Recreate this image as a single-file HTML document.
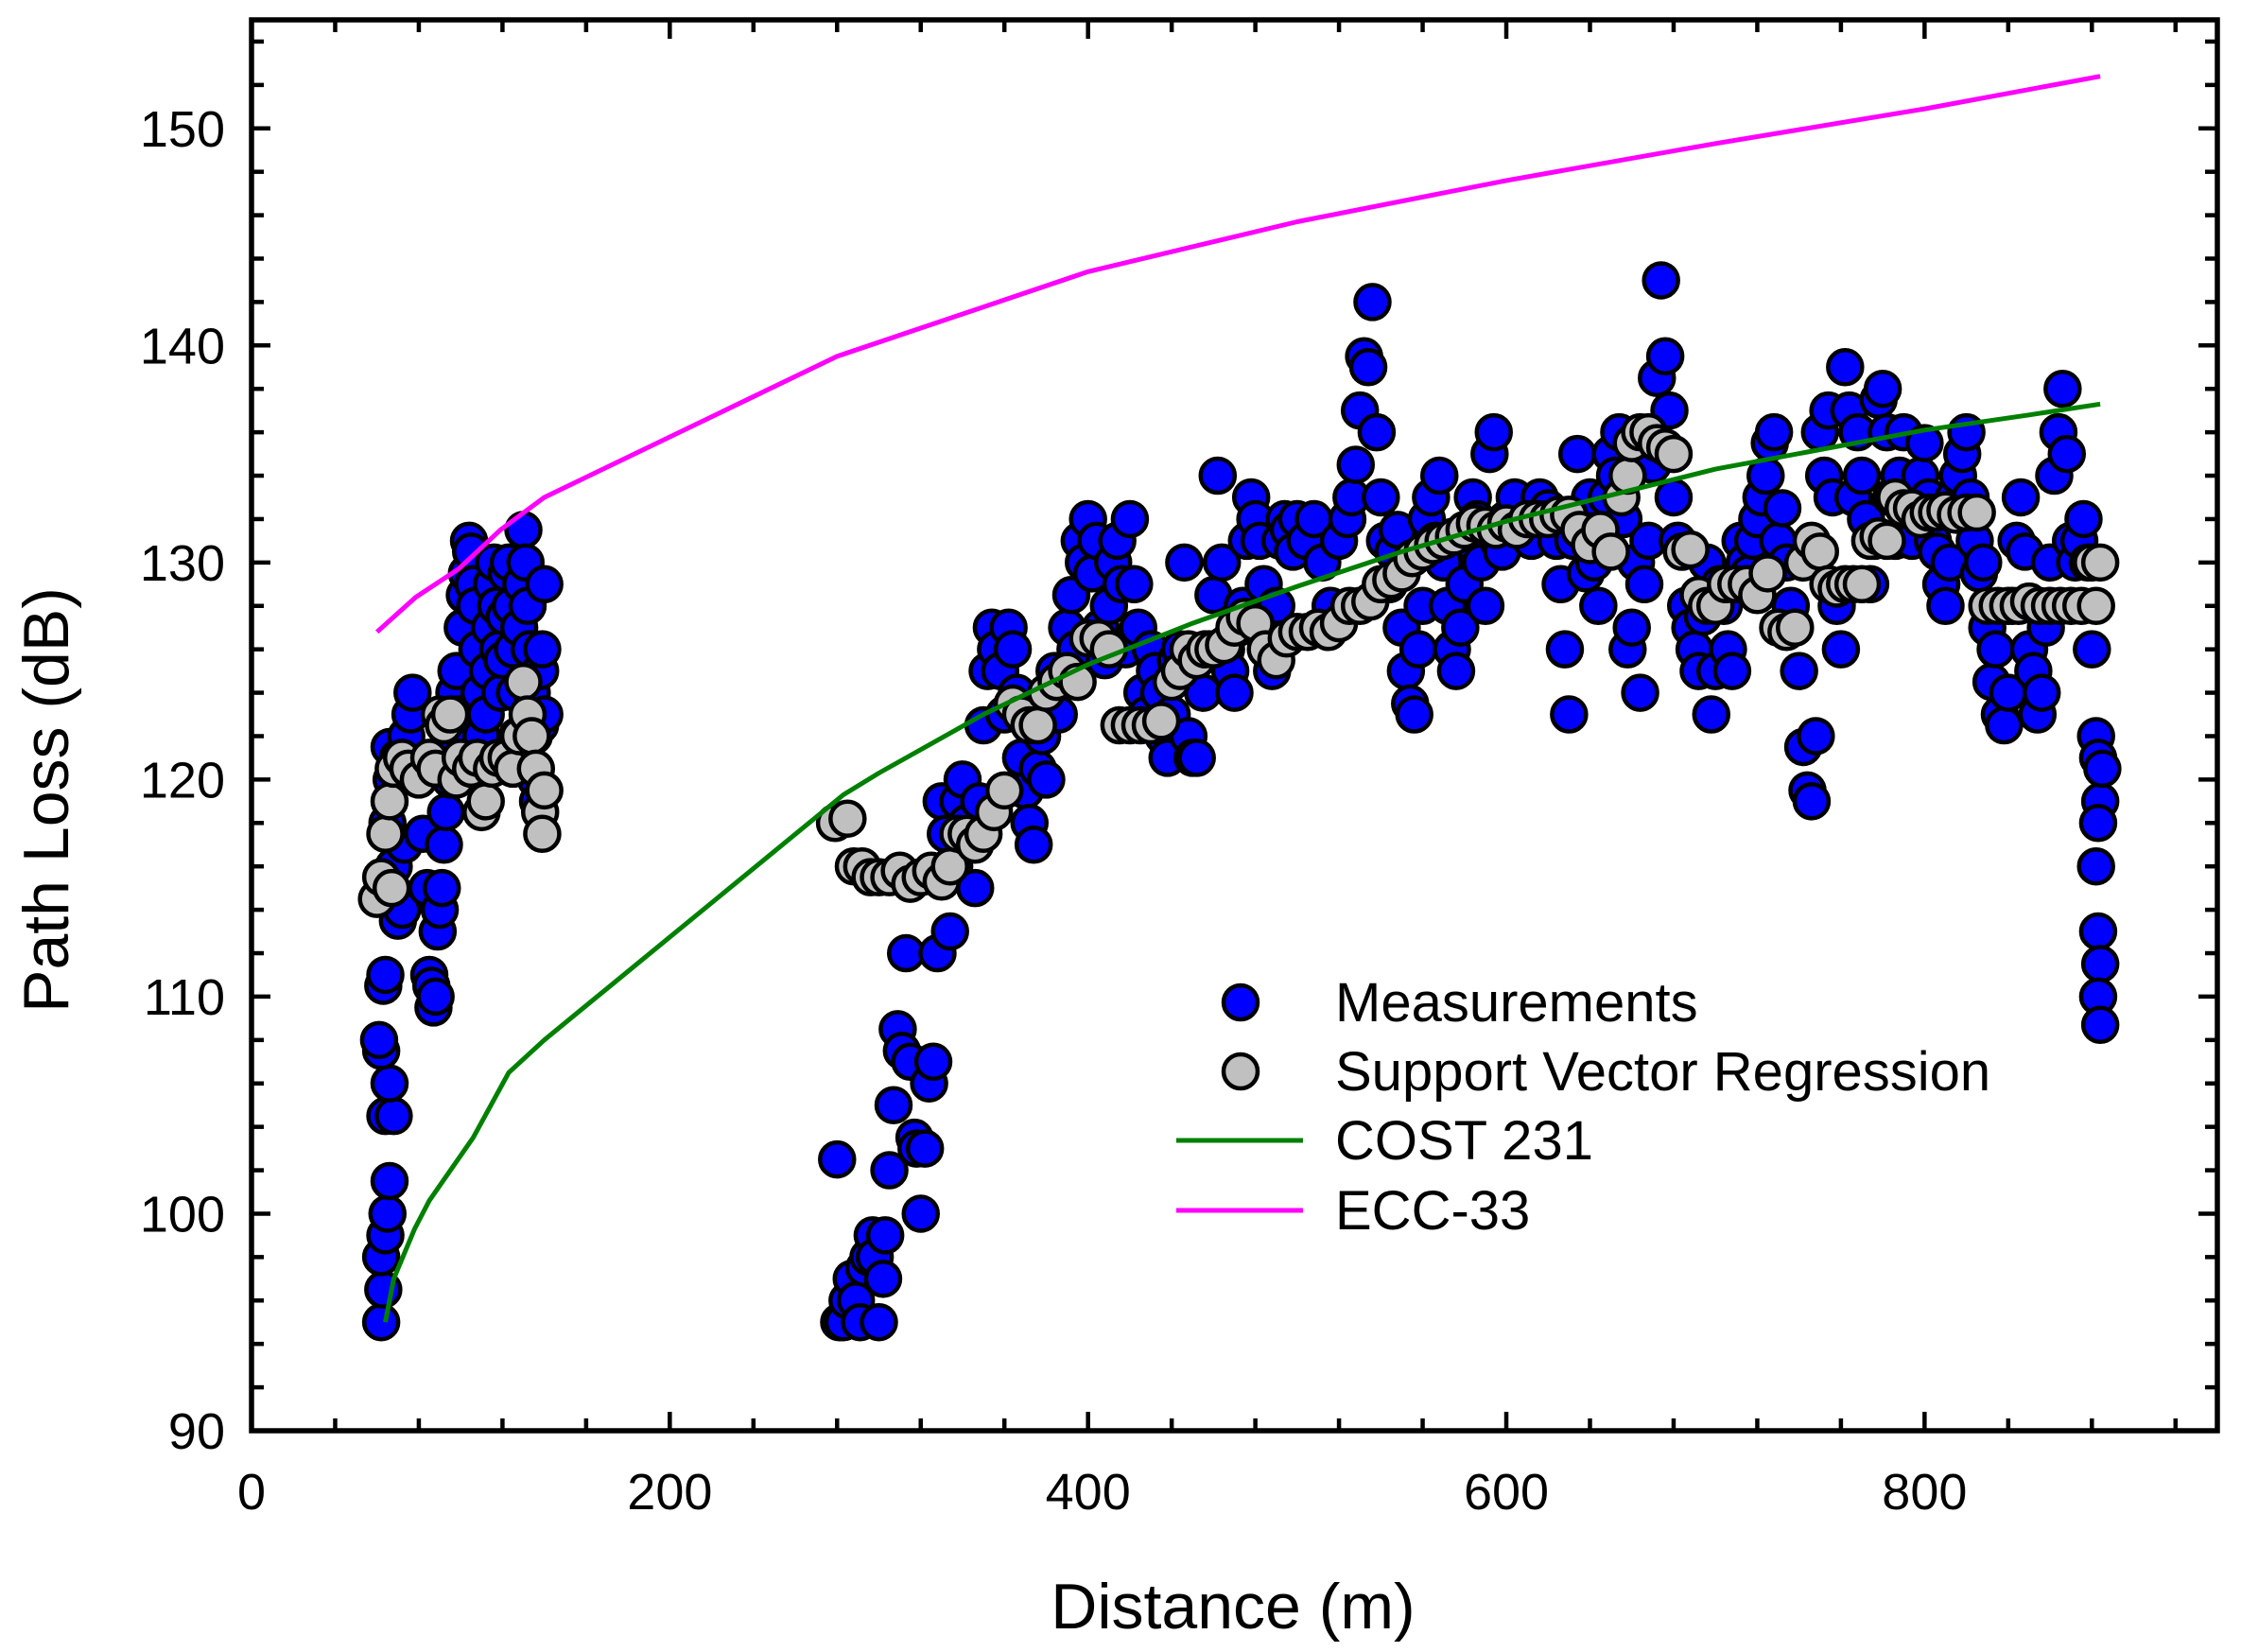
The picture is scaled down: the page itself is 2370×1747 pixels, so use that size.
<!DOCTYPE html>
<html><head><meta charset="utf-8">
<style>
html,body{margin:0;padding:0;background:#fff;}
svg{display:block;font-family:"Liberation Sans",Arial,sans-serif;}
</style></head>
<body>
<svg id="chart" width="2370" height="1747" viewBox="0 0 2370 1747" xmlns="http://www.w3.org/2000/svg">
<rect width="2370" height="1747" fill="#fff"/>
<g id="marks"></g>
<g id="axes"></g>
<g id="legend">
  <circle cx="1312" cy="1060" r="18" fill="#0000ff" stroke="#000" stroke-width="4.5"/>
  <text x="1412" y="1080" font-size="58">Measurements</text>
  <circle cx="1312" cy="1133" r="18" fill="#c0c0c0" stroke="#000" stroke-width="4.5"/>
  <text x="1412" y="1153" font-size="58">Support Vector Regression</text>
  <line x1="1244" y1="1206" x2="1378" y2="1206" stroke="#008000" stroke-width="5"/>
  <text x="1412" y="1226" font-size="58">COST 231</text>
  <line x1="1244" y1="1280" x2="1378" y2="1280" stroke="#ff00ff" stroke-width="5"/>
  <text x="1412" y="1300" font-size="58">ECC-33</text>
</g>
<text x="1304" y="1722" font-size="68" text-anchor="middle">Distance (m)</text>
<text x="0" y="0" font-size="68" text-anchor="middle" transform="translate(72,846) rotate(-90)">Path Loss (dB)</text>
</svg>
<script>
const measDist = [62,63,62,64,65,66,64,68,66,62,61,63,64,70,72,68,73,65,67,66,70,74,76,77,79,82,84,85,86,87,88,89,90,91,92,93,95,96,97,98,99,100,101,102,103,104,105,106,107,108,109,110,111,112,113,114,115,116,117,118,119,120,121,122,123,124,125,126,127,128,129,130,131,132,133,134,135,136,137,138,139,140,138,140,
280,281,283,285,287,289,291,293,295,297,298,300,302,303,305,307,309,311,313,315,317,318,320,322,324,326,328,330,332,334,336,338,340,342,344,346,348,350,352,354,356,358,360,362,364,366,368,370,372,374,376,378,380,382,384,386,390,392,394,396,398,400,402,404,406,408,410,412,414,416,418,420,422,424,426,428,430,432,434,436,438,440,442,444,446,448,450,452,455,458,460,462,464,466,468,470,472,474,476,478,480,482,484,486,488,490,492,494,496,498,500,504,508,512,516,520,524,526,528,530,532,534,536,538,540,542,544,546,548,550,552,554,556,558,560,562,564,566,568,570,572,574,576,578,580,582,584,586,588,590,592,594,596,598,600,604,608,612,616,620,624,626,628,630,632,634,636,638,640,642,644,646,648,650,652,654,656,658,660,662,664,666,668,670,672,674,676,678,680,682,684,686,688,690,692,694,696,698,700,702,704,706,708,710,712,714,716,718,720,722,724,726,728,730,732,734,736,738,740,742,744,746,748,750,752,754,756,758,760,762,764,766,768,770,772,774,776,778,780,782,784,786,788,790,792,794,796,798,800,802,804,806,808,810,812,814,816,818,820,822,824,826,828,830,832,834,836,838,840,842,844,846,848,850,852,854,856,858,860,862,864,866,868,870,872,874,876,878,880,882,883,884,883,882,883,884,883,884,885];
const measLoss = [95,96.5,98,99,100,101.5,104.5,104.5,106,107.5,108,110.5,111,113.5,114,116,117,118,120,121.5,121,122,123,124,120.5,117.5,115,111,110.5,109.5,110,113,114,115,117,118.5,120,122,124,125,123,121,127,128.5,129.5,131,130.5,129,128,126,124,122,120.5,123,125,127,129,130,128,126,124,125.5,127.5,129.5,130,128,126,124,122,127,129,131.5,130,128,126,124,122,120,119,125,126,129,122.5,123,
102.5,95,95,96,97,96,95,97.5,98,99,98,95,97,99,102,105,108.5,107.5,112,107,103.5,103,100,103,106,107,112,119,117.5,113,116,119,120,118,117,115,119,122.5,125,127,126,125,123,127,126,124,121,119.5,118,117,120.5,122,120,124,125,123,127,128.5,126,131,130,132,129.5,131,127,125.5,128,130,131,129,126,132,129,127,124,123,126,125,124,122,121,123,125.5,126,130,122,121,121,124,126,128.5,134,130,126,125,124,127,128,131,133,132,131,129,127,125,128,131,132,131.5,130.5,132,131,132,130,128,131,132,133,134.5,137,139.5,139,142,136,133,131,129,130.5,131.5,127,125,123.5,123,126,128,132,133,131,134,130,128,126,125,127,129,131,133,132,130,128,135,136,131,130.5,132,133,131.5,131,133,132.5,131,129,126,123,131,135,132,129.5,133,130,128,131,133,135,134,136,132,126,127,130,124,129,131,134.5,138.5,143,139.5,137,133,131,130.5,128,127,126,125,127.5,130,123,125,129,128,126,125,129,131,130,129.5,131,132,133,134,135.5,136,131,132.5,130,128,127,125,121.5,119.5,119,122,136,134,137,133,128,126,139,137,133,136,134,132,129,131,137.5,138,136,133,131,134,136,133,131,133,134,135.5,133,131,130.5,129,128,130,133,134,135,136,133,131,129.5,130,127,124.5,126,123,122.5,124,128,131,133,130.5,126,125,123,124,127,130,134,136,138,135,131,130,131,132,130,126,122,121,119,118,116,113,111.5,110,108.7,120.5];
const svrDist = [60,62,64,66,67,68,72,75,80,85,88,90,92,95,98,100,105,108,110,112,115,118,122,125,128,130,132,134,136,138,139,140,
279,285,288,292,296,300,305,310,315,320,325,330,334,338,342,346,350,355,360,364,368,372,376,380,385,390,395,400,405,410,415,420,425,430,435,440,444,448,452,456,460,465,470,475,480,485,490,495,500,505,510,515,520,525,530,535,540,545,550,555,560,565,570,575,580,585,590,595,600,605,610,615,620,625,630,635,640,645,650,655,658,660,664,668,672,676,680,684,688,692,696,700,705,710,715,720,725,730,734,738,742,746,750,754,758,762,766,770,774,778,782,786,790,794,798,802,806,810,815,820,825,830,835,840,845,850,855,860,865,870,875,880,882,884];
const svrLoss = [114.5,115.5,117.5,119,115,120.5,121,120.5,120,121,120.5,123,122.5,123,120,121,120.5,121,118.5,119,120.5,121,121,120.5,122,124.5,123,122,120.5,118.5,117.5,119.5,
118,118.2,116,116,115.5,115.5,115.5,115.8,115.2,115.5,115.8,115.3,116,117.5,117.5,117,117.5,118.5,119.5,123.5,123,122.5,122.5,124,124.5,125,124.5,126.5,126.5,126,122.5,122.5,122.5,122.5,122.7,124.5,125,126,125.5,126,126,126.2,127,127.5,127.2,126,125.5,126.5,126.8,126.8,127,126.8,127.2,128,128,128.2,129,129.2,129.5,130.2,130.5,130.8,131,131.2,131.5,131.8,131.7,131.5,131.8,131.5,132,132,132,132.2,132.2,131.5,130.8,131.5,130.5,133,134,135.5,136,136,135.5,135.3,135,130.5,130.6,128.5,128,128,129,129,129,128.5,129.5,127,126.8,127,130,131,130.5,129,128.8,129,129,129,131,131.2,131,133,132.5,132.5,132,132.3,132.3,132.4,132.2,132.3,132.3,128,128,128,128,128.2,128,128,128,128,128,130,128,130];
const costDist = [64,68,78,85,106,123,140,283,300,350,400,450,500,550,600,650,700,750,800,850,884];
const costLoss = [95,97,99.3,100.6,103.5,106.5,108,119.3,120.3,123,125.3,127.2,128.9,130.5,131.9,133.1,134.3,135.2,136.1,136.8,137.3];
const eccDist = [60,78.5,99,119,140,280,400,500,600,700,800,884];
const eccLoss = [126.8,128.4,129.7,131.5,133,139.5,143.4,145.7,147.6,149.3,150.9,152.4];
const xTicks = [0,200,400,600,800];
const yTicks = [90,100,110,120,130,140,150];

const NS = "http://www.w3.org/2000/svg";
const L = 266, R = 2345, T = 21, B = 1513;
const X0 = 0, X1 = 940, Y0 = 90, Y1 = 155;
function xs(v){ return L + (v - X0) / (X1 - X0) * (R - L); }
function ys(v){ return B - (v - Y0) / (Y1 - Y0) * (B - T); }
function mk(tag, attrs, parent){ const e = document.createElementNS(NS, tag); for (const k in attrs) e.setAttribute(k, attrs[k]); parent.appendChild(e); return e; }

const marks = document.getElementById('marks');
const gm = mk('g', {}, marks);


for (let i = 0; i < measDist.length; i++) {
  const c = mk('circle', {cx: xs(measDist[i]), cy: ys(measLoss[i]), r: 18, fill: '#0000ff', stroke: '#000', 'stroke-width': 4.5}, gm);
  
  
}
const gs = mk('g', {}, marks);


for (let i = 0; i < svrDist.length; i++) {
  const c = mk('circle', {cx: xs(svrDist[i]), cy: ys(svrLoss[i]), r: 18, fill: '#c0c0c0', stroke: '#000', 'stroke-width': 4.5}, gs);
  
  
}
function line(d, v, color, name){
  const pts = d.map((x, i) => xs(x).toFixed(1) + ',' + ys(v[i]).toFixed(1)).join(' ');
  const p = mk('polyline', {points: pts, fill: 'none', stroke: color, 'stroke-width': 5, 'stroke-linejoin': 'round'}, marks);
  
  
}
line(costDist, costLoss, '#008000', 'cost231-line');
line(eccDist, eccLoss, '#ff00ff', 'ecc33-line');

const axes = document.getElementById('axes');
const frame = mk('rect', {x: L, y: T, width: R - L, height: B - T, fill: 'none', stroke: '#000', 'stroke-width': 5.5}, axes);


for (let v = 0; v <= X1; v += 40) {
  const major = v % 200 === 0, len = major ? 20 : 13, x = xs(v);
  mk('line', {x1: x, y1: B, x2: x, y2: B - len, stroke: '#000', 'stroke-width': 4.5}, axes);
  mk('line', {x1: x, y1: T, x2: x, y2: T + len, stroke: '#000', 'stroke-width': 4.5}, axes);
}
for (let v = Y0; v <= Y1; v += 2) {
  const major = v % 10 === 0, len = major ? 20 : 13, y = ys(v);
  mk('line', {x1: L, y1: y, x2: L + len, y2: y, stroke: '#000', 'stroke-width': 4.5}, axes);
  mk('line', {x1: R, y1: y, x2: R - len, y2: y, stroke: '#000', 'stroke-width': 4.5}, axes);
}
xTicks.forEach(v => {
  const t = mk('text', {x: xs(v), y: 1596, 'font-size': 54, 'text-anchor': 'middle'}, axes);
  t.textContent = v;
  
  
});
yTicks.forEach(v => {
  const t = mk('text', {x: 238, y: ys(v) + 19, 'font-size': 54, 'text-anchor': 'end'}, axes);
  t.textContent = v;
  
  
});
</script>
</body></html>
